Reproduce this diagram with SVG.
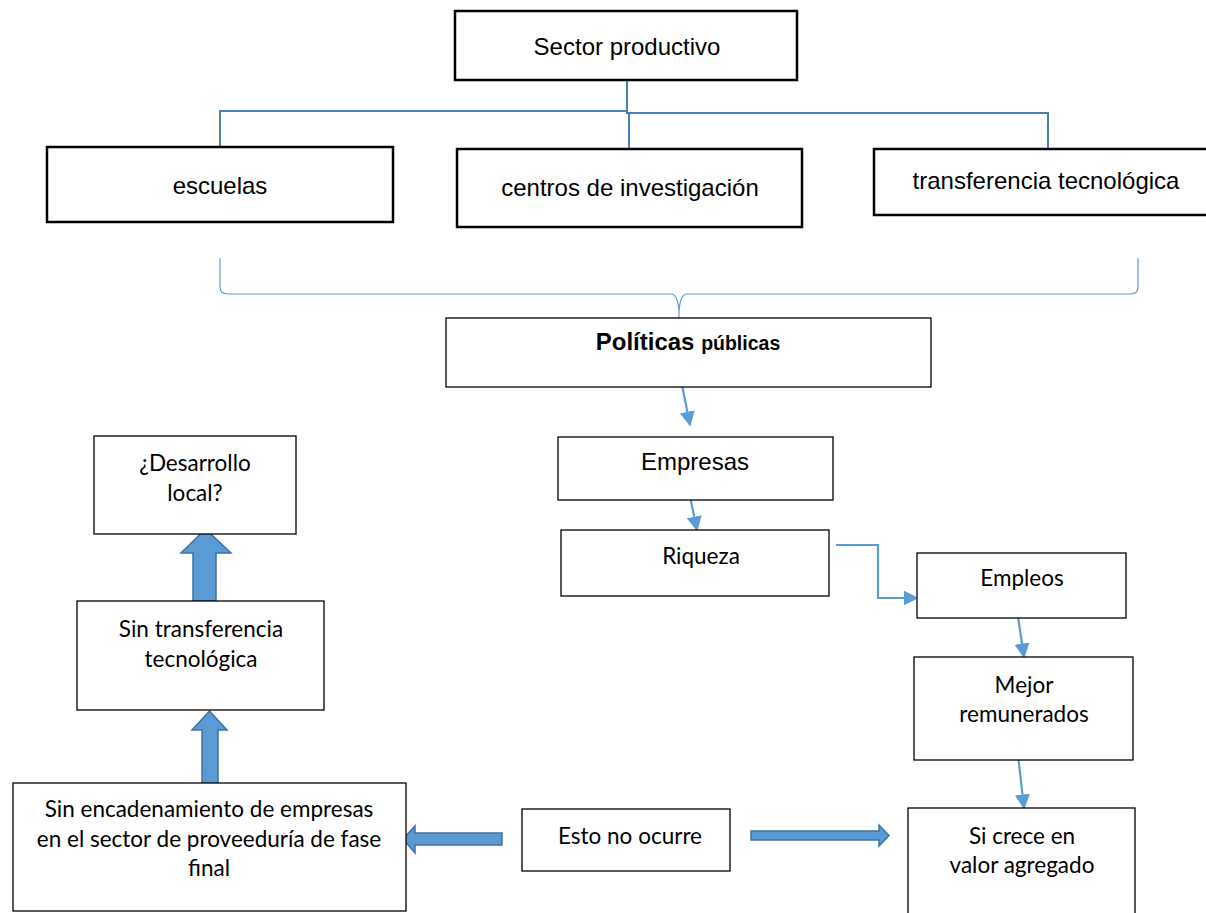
<svg xmlns="http://www.w3.org/2000/svg" width="1206" height="913" viewBox="0 0 1206 913">
<defs>
<style>
.box{fill:#fff;stroke:#000;stroke-width:2.5}
.box2{fill:#fff;stroke:#000;stroke-width:1.3}
.ar{font-family:"Liberation Sans",Arial,sans-serif;font-size:24px;fill:#000;text-anchor:middle}
.ca{font-family:Lato,"Liberation Sans",sans-serif;font-size:22.5px;fill:#000;text-anchor:middle}
.org{fill:none;stroke:#4a7ebb;stroke-width:2}
.thin{fill:none;stroke:#5b9bd5;stroke-width:2.2}
.brace{fill:none;stroke:#5b9bd5;stroke-width:1.2}
.block{fill:#5b9bd5;stroke:#41719c;stroke-width:1.5}
</style>
<marker id="ah" viewBox="0 0 10 10" refX="9" refY="5" markerWidth="15" markerHeight="15" markerUnits="userSpaceOnUse" orient="auto">
<path d="M0,0 L10,5 L0,10 z" fill="#5b9bd5"/>
</marker>
</defs>

<g id="connectors">
<path class="org" d="M627,80 V111 H220 V147"/>
<path class="org" d="M627,111 V113 H1048 V149"/>
<path class="org" d="M629,113 V149"/>
<path class="brace" d="M220,258 L220,287 Q220,294 228,294 L671,294 Q678,294 679,312 L679,330 M679,312 Q680,294 687,294 L1130,294 Q1138,294 1138,287 L1138,258"/>
<path class="thin" d="M681,380 L690,425" marker-end="url(#ah)"/>
<path class="thin" d="M688,487 L697,530" marker-end="url(#ah)"/>
<path class="thin" d="M836,545 H878 V598 H917" marker-end="url(#ah)"/>
<path class="thin" d="M1018,617 L1024,657" marker-end="url(#ah)"/>
<path class="thin" d="M1018,755 L1024,808" marker-end="url(#ah)"/>
<path class="block" d="M751,831 H879 V825 L889,835.5 L879,846 V840 H751 Z"/>
<path class="block" d="M502,833 H415 V826 L403,839 L415,853 V845 H502 Z"/>
<path class="block" d="M202,785 V730 H192 L209.5,711 L227,730 H218 V785 Z"/>
<path class="block" d="M193,601 V553 H181 L205.5,529 L231,553 H216 V601 Z"/>
</g>

<g id="n-sector">
<rect class="box" x="455" y="11" width="342" height="69"/>
<text class="ar" x="627" y="55">Sector productivo</text>
</g>
<g id="n-escuelas">
<rect class="box" x="47" y="147" width="346" height="75"/>
<text class="ar" x="220" y="194">escuelas</text>
</g>
<g id="n-centros">
<rect class="box" x="457" y="149" width="345" height="78"/>
<text class="ar" x="630" y="196">centros de investigación</text>
</g>
<g id="n-transferencia">
<rect class="box" x="874" y="149" width="340" height="66"/>
<text class="ar" x="1046" y="189">transferencia tecnológica</text>
</g>
<g id="n-politicas">
<rect class="box2" x="446" y="318" width="485" height="69"/>
<text class="ar" x="688" y="350" font-weight="bold"><tspan font-size="24">Políticas</tspan> <tspan font-size="19.5">públicas</tspan></text>
</g>
<g id="n-empresas">
<rect class="box2" x="558" y="437" width="275" height="63"/>
<text class="ar" x="695" y="470">Empresas</text>
</g>
<g id="n-riqueza">
<rect class="box2" x="561" y="530" width="268" height="66"/>
<text class="ca" x="701" y="564" font-size="20">Riqueza</text>
</g>
<g id="n-empleos">
<rect class="box2" x="917" y="553" width="209" height="65"/>
<text class="ca" x="1022" y="586" font-size="20">Empleos</text>
</g>
<g id="n-mejor">
<rect class="box2" x="914" y="657" width="219" height="103"/>
<text class="ca" x="1024" y="693">Mejor</text>
<text class="ca" x="1024" y="722">remunerados</text>
</g>
<g id="n-sicrece">
<rect class="box2" x="908" y="808" width="227" height="110"/>
<text class="ca" x="1022" y="844">Si crece en</text>
<text class="ca" x="1022" y="873">valor agregado</text>
</g>
<g id="n-esto">
<rect class="box2" x="522" y="809" width="208" height="62"/>
<text class="ca" x="630" y="844">Esto no ocurre</text>
</g>
<g id="n-sinenc">
<rect class="box2" x="13" y="783" width="393" height="128"/>
<text class="ca" x="209" y="817">Sin encadenamiento de empresas</text>
<text class="ca" x="209" y="847">en el sector de proveeduría de fase</text>
<text class="ca" x="209" y="876">final</text>
</g>
<g id="n-sintrans">
<rect class="box2" x="77" y="601" width="247" height="109"/>
<text class="ca" x="201" y="637">Sin transferencia</text>
<text class="ca" x="201" y="667">tecnológica</text>
</g>
<g id="n-desarrollo">
<rect class="box2" x="94" y="436" width="202" height="98"/>
<text class="ca" x="195" y="471">¿Desarrollo</text>
<text class="ca" x="195" y="501">local?</text>
</g>
</svg>
